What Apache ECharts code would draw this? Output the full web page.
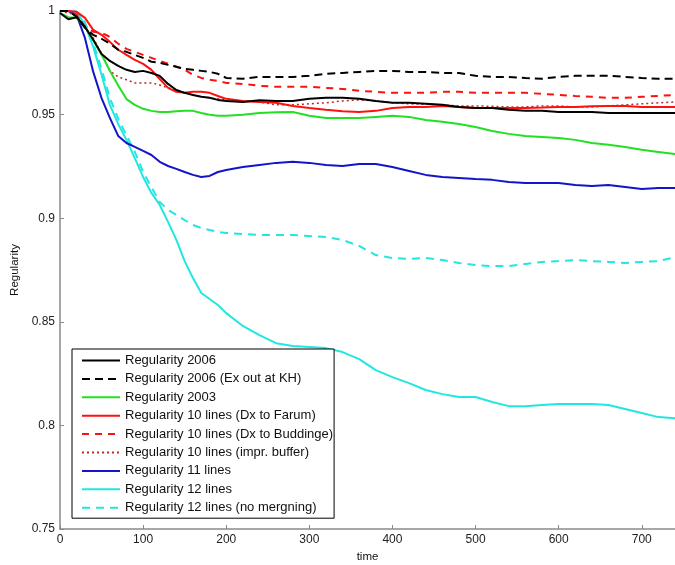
<!DOCTYPE html>
<html>
<head>
<meta charset="utf-8">
<script src="https://cdn.jsdelivr.net/npm/echarts@6/dist/echarts.min.js"></script>
<style>
  html, body { margin: 0; padding: 0; background: #fff; }
  #chart { width: 675px; height: 565px; }
</style>
</head>
<body>
<div id="chart"></div>
<script>
// time axis samples (shared by all series)
const times = [0, 10, 20, 30, 40, 50, 60, 70, 80, 90, 100, 110, 120, 130, 140, 150, 160, 170, 180, 190,
  200, 220, 240, 260, 280, 300, 320, 340, 360, 380, 400, 420, 440, 460, 480, 500, 520, 540, 560, 580,
  600, 620, 640, 660, 680, 700, 720, 740];

const yTicks = [0.75, 0.8, 0.85, 0.9, 0.95, 1];
const xTicks = [0, 100, 200, 300, 400, 500, 600, 700];

const names = [
  "Regularity 2006",
  "Regularity 2006 (Ex out at KH)",
  "Regularity 2003",
  "Regularity 10 lines (Dx to Farum)",
  "Regularity 10 lines (Dx to Buddinge)",
  "Regularity 10 lines (impr. buffer)",
  "Regularity 11 lines",
  "Regularity 12 lines",
  "Regularity 12 lines (no mergning)"
];

const reg2006 = [0.999, 0.996, 0.997, 0.9924, 0.9861, 0.9793, 0.9759, 0.9735, 0.9716, 0.9706, 0.9711, 0.9701, 0.9687, 0.9648, 0.9619, 0.9605, 0.9595, 0.9586, 0.9581, 0.9571,
  0.9566, 0.9561, 0.9569, 0.9566, 0.9566, 0.9576, 0.9581, 0.9581, 0.9576, 0.9566, 0.9557, 0.9557, 0.9552, 0.9547, 0.9537, 0.9532, 0.9532, 0.9523, 0.9518, 0.9518,
  0.9513, 0.9513, 0.9513, 0.9508, 0.9508, 0.9508, 0.9508, 0.9508];

const reg2006ex = [1.0, 1.0, 0.9972, 0.9919, 0.9885, 0.9866, 0.9842, 0.9813, 0.9803, 0.9788, 0.9774, 0.9755, 0.975, 0.974, 0.9731, 0.9721, 0.9716, 0.9711, 0.9706, 0.9697,
  0.9677, 0.9673, 0.9682, 0.9682, 0.9682, 0.9687, 0.9697, 0.9701, 0.9706, 0.9711, 0.9711, 0.9706, 0.9706, 0.9701, 0.9701, 0.9687, 0.9682, 0.9682, 0.9677, 0.9673,
  0.9682, 0.9687, 0.9687, 0.9687, 0.9682, 0.9677, 0.9673, 0.9673];

const reg2003 = [0.999, 0.997, 0.9967, 0.9924, 0.986, 0.979, 0.9712, 0.964, 0.9575, 0.9547, 0.9528, 0.9518, 0.9513, 0.9513, 0.9516, 0.9518, 0.9518, 0.9508, 0.9499, 0.9494,
  0.9494, 0.9499, 0.9508, 0.9511, 0.9513, 0.9494, 0.9484, 0.9484, 0.9484, 0.9489, 0.9494, 0.9489, 0.9474, 0.9465, 0.9455, 0.944, 0.9421, 0.9407, 0.9397, 0.9392,
  0.9387, 0.9378, 0.9363, 0.9354, 0.9344, 0.933, 0.932, 0.931];

const reg10farum = [1.0, 1.0, 0.9996, 0.9967, 0.9909, 0.9885, 0.9851, 0.9813, 0.9788, 0.9764, 0.9745, 0.9716, 0.9672, 0.9629, 0.961, 0.9605, 0.961, 0.961, 0.9605, 0.959,
  0.9576, 0.9566, 0.9561, 0.9557, 0.9542, 0.9532, 0.9523, 0.9516, 0.9513, 0.9518, 0.9532, 0.9537, 0.9537, 0.9542, 0.9537, 0.9532, 0.9532, 0.9532, 0.9532, 0.9534,
  0.9537, 0.9537, 0.954, 0.9542, 0.9542, 0.9537, 0.9537, 0.9537];

const reg10bud = [1.0, 1.0, 0.9982, 0.9924, 0.99, 0.9895, 0.9875, 0.9842, 0.9817, 0.9803, 0.9788, 0.9774, 0.9759, 0.9745, 0.9731, 0.9716, 0.9692, 0.9677, 0.9668, 0.9663,
  0.9653, 0.9648, 0.9639, 0.9634, 0.9634, 0.9634, 0.9629, 0.9624, 0.9615, 0.961, 0.9605, 0.9605, 0.9605, 0.961, 0.961, 0.9605, 0.9605, 0.9605, 0.9605, 0.96,
  0.9595, 0.959, 0.9586, 0.9581, 0.9581, 0.9586, 0.959, 0.9595];

const reg10buf = [1.0, 0.999, 0.9982, 0.9924, 0.987, 0.9793, 0.9711, 0.9682, 0.9668, 0.9653, 0.9653, 0.9653, 0.9643, 0.9629, 0.9619, 0.9605, 0.9595, 0.9586, 0.9581, 0.9576,
  0.9571, 0.9566, 0.9561, 0.9547, 0.9547, 0.9552, 0.9557, 0.9566, 0.9571, 0.9566, 0.9557, 0.9552, 0.955, 0.9547, 0.9542, 0.9542, 0.954, 0.9537, 0.9537, 0.9542,
  0.9542, 0.9537, 0.9537, 0.9542, 0.9547, 0.9552, 0.9557, 0.9561];

const reg11 = [1.0, 1.0, 0.998, 0.987, 0.9706, 0.958, 0.9484, 0.9397, 0.9363, 0.9344, 0.9325, 0.9305, 0.9272, 0.9252, 0.9238, 0.9223, 0.9209, 0.9199, 0.9204, 0.9223,
  0.9233, 0.9247, 0.9257, 0.9267, 0.9272, 0.9267, 0.9257, 0.9252, 0.9262, 0.9262, 0.9247, 0.9228, 0.9209, 0.9199, 0.9194, 0.9189, 0.9185, 0.9175, 0.917, 0.917,
  0.917, 0.916, 0.9156, 0.916, 0.9151, 0.9141, 0.9146, 0.9146];

const reg12 = [1.0, 1.0, 0.9996, 0.9933, 0.9827, 0.9692, 0.9547, 0.9455, 0.9378, 0.929, 0.9199, 0.9122, 0.9064, 0.8982, 0.8895, 0.8793, 0.8711, 0.8639, 0.861, 0.8581,
  0.8542, 0.848, 0.8436, 0.8397, 0.8383, 0.8378, 0.8373, 0.8354, 0.832, 0.8267, 0.8233, 0.8204, 0.8171, 0.8151, 0.8137, 0.8137, 0.8113, 0.8093, 0.8093, 0.8098,
  0.8103, 0.8103, 0.8103, 0.8098, 0.8079, 0.806, 0.804, 0.8035];

const reg12nm = [1.0, 1.0, 0.9996, 0.9945, 0.9845, 0.972, 0.958, 0.948, 0.94, 0.932, 0.9223, 0.915, 0.9078, 0.904, 0.9016, 0.8991, 0.8967, 0.8953, 0.8943, 0.8934,
  0.8929, 0.8924, 0.8919, 0.8919, 0.8919, 0.8914, 0.8909, 0.8895, 0.8866, 0.8822, 0.8808, 0.8803, 0.8808, 0.8798, 0.8784, 0.8774, 0.8769, 0.8769, 0.8779, 0.8789,
  0.8793, 0.8798, 0.8793, 0.8789, 0.8784, 0.8789, 0.8793, 0.8812];

const allValues = [reg2006, reg2006ex, reg2003, reg10farum, reg10bud, reg10buf, reg11, reg12, reg12nm];
const colors = ["#000000", "#000000", "#22e022", "#ff1010", "#ff1010", "#c02828", "#1414c8", "#22e6e0", "#22e6e0"];
const dashes = ["solid", [8, 5], "solid", "solid", [7, 6], [2, 3], "solid", "solid", [8, 6]];
const widths = [2, 2, 2, 2, 2, 1.5, 2, 2, 2];

const chart = echarts.init(document.getElementById("chart"));

const series = allValues.map((vals, i) => ({
  name: names[i],
  type: "line",
  data: vals.map((v, j) => [times[j], v]),
  showSymbol: false,
  symbol: "none",
  lineStyle: { color: colors[i], width: widths[i], type: dashes[i] },
  itemStyle: { color: colors[i] },
  z: 10 - i
}));

chart.setOption({
  animation: false,
  backgroundColor: "#fff",
  textStyle: { fontFamily: "Liberation Sans, Arial, sans-serif" },
  grid: { left: 60, right: 0, top: 11, bottom: 36, outerBoundsMode: "none" },
  legend: {
    orient: "vertical",
    left: 72,
    top: 349,
    data: names,
    itemWidth: 38,
    itemHeight: 14,
    itemGap: 5.4,
    padding: [5, 1, 4, 9],
    borderColor: "#000",
    borderWidth: 1,
    backgroundColor: "#fff",
    // hide the circle marker, keep only the line sample
    itemStyle: { color: "transparent", borderColor: "transparent", borderWidth: 0, opacity: 0 },
    textStyle: { fontSize: 13, color: "#111", fontFamily: "Liberation Sans, Arial, sans-serif" }
  },
  xAxis: {
    type: "value",
    min: xTicks[0],
    max: 740,
    interval: 100,
    name: "time",
    nameLocation: "middle",
    nameGap: 16,
    nameTextStyle: { fontSize: 11.5, color: "#111" },
    axisLine: { lineStyle: { color: "#8a8a8a", width: 1.5 } },
    axisTick: { inside: true, length: 4, lineStyle: { color: "#8a8a8a" } },
    axisLabel: {
      fontSize: 12, color: "#222", margin: 5, showMaxLabel: false,
      formatter: v => (xTicks.indexOf(v) >= 0 ? String(v) : "")
    },
    splitLine: { show: false }
  },
  yAxis: {
    type: "value",
    min: yTicks[0],
    max: yTicks[yTicks.length - 1],
    interval: 0.05,
    name: "Regularity",
    nameLocation: "middle",
    nameGap: 35,
    nameTextStyle: { fontSize: 11.5, color: "#111" },
    axisLine: { show: true, lineStyle: { color: "#8a8a8a", width: 1.5 } },
    axisTick: { show: true, inside: true, length: 4, lineStyle: { color: "#8a8a8a" } },
    axisLabel: {
      fontSize: 12, color: "#222", margin: 5,
      formatter: v => String(Math.round(v * 100) / 100)
    },
    splitLine: { show: false }
  },
  series: series
});
</script>
</body>
</html>
